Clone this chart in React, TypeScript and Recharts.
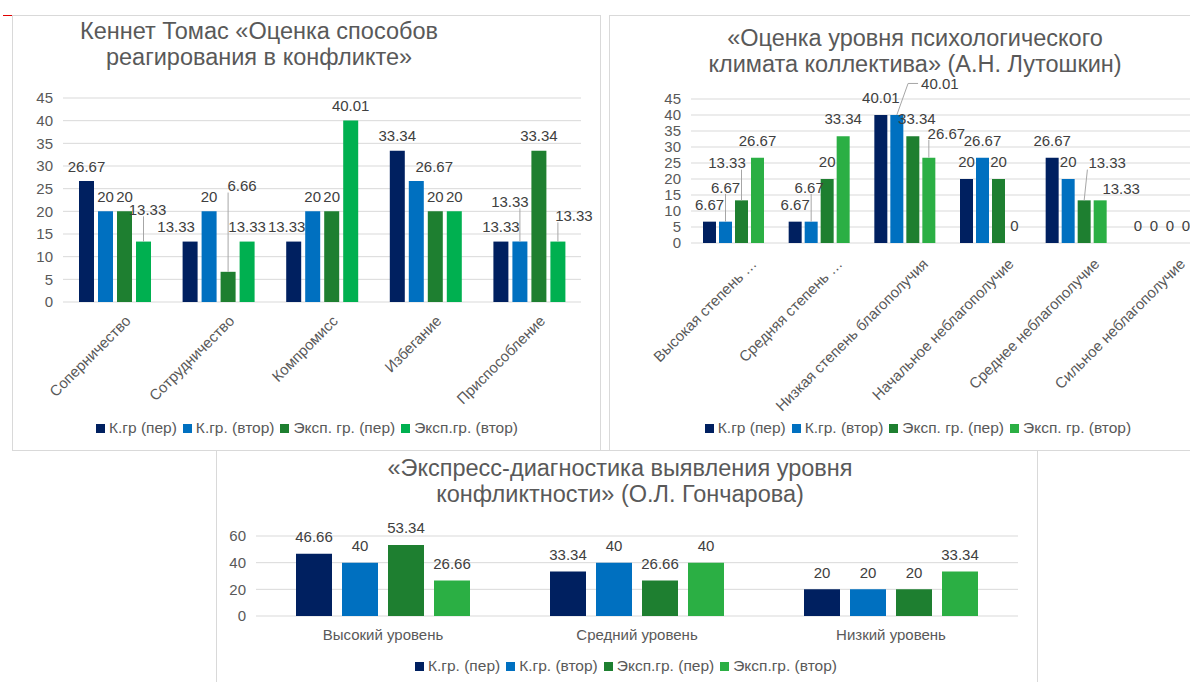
import React from 'react';
import { BarChart, Bar, XAxis, YAxis, CartesianGrid, LabelList } from 'recharts';

const FONT = '"Liberation Sans", Arial, sans-serif';
const AXIS_GREY = '#595959';
const LABEL_GREY = '#404040';
const GRID = '#D9D9D9';

const NAVY = '#002060';
const BLUE = '#0070C0';
const DARK_GREEN = '#1E7F30';
const GREEN = '#00B050';
const GREEN_2 = '#2BAF44';

// Кеннет Томас «Оценка способов реагирования в конфликте»
const thomasCategories = ['Соперничество', 'Сотрудничество', 'Компромисс', 'Избегание', 'Приспособление'];
const thomasCtrlFirst = [26.67, 13.33, 13.33, 33.34, 13.33];
const thomasCtrlSecond = [20, 20, 20, 26.67, 13.33];
const thomasExpFirst = [20, 6.66, 20, 20, 33.34];
const thomasExpSecond = [13.33, 13.33, 40.01, 20, 13.33];
const thomasNames = ['К.гр (пер)', 'К.гр. (втор)', 'Эксп. гр. (пер)', 'Эксп.гр. (втор)'];
const thomasTicks = [0, 5, 10, 15, 20, 25, 30, 35, 40, 45];

// «Оценка уровня психологического климата коллектива» (А.Н. Лутошкин)
const climateCategories = [
  'Высокая степень …',
  'Средняя степень …',
  'Низкая степень благополучия',
  'Начальное неблагополучие',
  'Среднее неблагополучие',
  'Сильное неблагополучие',
];
const climateCtrlFirst = [6.67, 6.67, 40.01, 20, 26.67, 0];
const climateCtrlSecond = [6.67, 6.67, 40.01, 26.67, 20, 0];
const climateExpFirst = [13.33, 20, 33.34, 20, 13.33, 0];
const climateExpSecond = [26.67, 33.34, 26.67, 0, 13.33, 0];
const climateNames = ['К.гр (пер)', 'К.гр. (втор)', 'Эксп. гр. (пер)', 'Эксп. гр. (втор)'];
const climateTicks = [0, 5, 10, 15, 20, 25, 30, 35, 40, 45];

// «Экспресс-диагностика выявления уровня конфликтности» (О.Л. Гончарова)
const conflictCategories = ['Высокий уровень', 'Средний уровень', 'Низкий уровень'];
const conflictCtrlFirst = [46.66, 33.34, 20];
const conflictCtrlSecond = [40, 40, 20];
const conflictExpFirst = [53.34, 26.66, 20];
const conflictExpSecond = [26.66, 40, 33.34];
const conflictNames = ['К.гр. (пер)', 'К.гр. (втор)', 'Эксп.гр. (пер)', 'Эксп.гр. (втор)'];
const conflictTicks = [0, 20, 40, 60];

// label nudges (dx, dy, leader line) where Excel moved labels apart
type Shift = [number, number, boolean?];
type ShiftMap = Record<number, Record<number, Shift>>;

const thomasShifts: ShiftMap = {
  0: { 1: [-14, 0], 2: [-7, 0] },
  1: { 3: [18, 0], 4: [-10, -25, true] },
  2: { 1: [14, -71, true] },
  3: { 0: [4, -17, true], 4: [16, -11, true] },
};

const climateShifts: ShiftMap = {
  0: {},
  1: { 0: [0, -17, true], 1: [-2, -17, true], 2: [43, -14, true] },
  2: { 0: [-14.5, -20, true], 2: [4, 0], 4: [23, -20, true] },
  3: { 2: [17.5, -7, true], 4: [21, 6] },
};

const toRows = (cats: string[], series: number[][]) =>
  cats.map((name, i) => {
    const row: Record<string, string | number> = { name };
    series.forEach((s, k) => {
      row['s' + k] = s[i];
    });
    return row;
  });

const textWidth = (s: string, fs: number) => {
  let w = 0;
  for (const ch of s) w += ch === '.' ? 0.278 : 0.556;
  return w * fs;
};

const makeLabel = (shifts: Record<number, Shift> | undefined, gap: number, fs: number) => (props: any) => {
  const { x, y, width, value, index } = props;
  const cx = Number(x) + Number(width) / 2;
  const top = Number(y);
  const s = shifts ? shifts[index] : undefined;
  const lx = cx + (s ? s[0] : 0);
  const ly = top - gap + (s ? s[1] : 0);
  const text = String(value);
  let leader = null;
  if (s && s[2]) {
    const hw = textWidth(text, fs) / 2 + 1;
    const hh = fs * 0.45;
    if (Math.abs(lx - cx) > 30) {
      // elbow leader to the near side of the label
      const side = lx > cx ? lx - hw - 2 : lx + hw + 2;
      const knee = lx > cx ? side - 10 : side + 10;
      leader = <polyline points={`${cx},${top} ${knee},${ly} ${side},${ly}`} fill="none" stroke="#A6A6A6" strokeWidth={1} />;
    } else {
      const px = Math.min(Math.max(cx, lx - hw), lx + hw);
      const py = Math.min(Math.max(top, ly - hh), ly + hh);
      leader = <line x1={cx} y1={top} x2={px} y2={py} stroke="#A6A6A6" strokeWidth={1} />;
    }
  }
  return (
    <g>
      {leader}
      <text x={lx} y={ly} textAnchor="middle" dominantBaseline="central" fontSize={fs} fill={LABEL_GREY} fontFamily={FONT}>
        {text}
      </text>
    </g>
  );
};

const rotatedTick = (ox: number, oy: number, fs: number) => (props: any) => {
  const { x, y, payload } = props;
  const tx = x + ox;
  const ty = y + oy;
  return (
    <text x={tx} y={ty} transform={`rotate(-45 ${tx} ${ty})`} textAnchor="end" dominantBaseline="central" fontSize={fs} fill={AXIS_GREY} fontFamily={FONT}>
      {payload.value}
    </text>
  );
};

const flatTick = (oy: number, fs: number) => (props: any) => {
  const { x, y, payload } = props;
  return (
    <text x={x} y={y + oy} textAnchor="middle" dominantBaseline="central" fontSize={fs} fill={AXIS_GREY} fontFamily={FONT}>
      {payload.value}
    </text>
  );
};

interface GroupedProps {
  width: number;
  height: number;
  margin: { top: number; right: number; bottom: number; left: number };
  yWidth: number;
  xHeight: number;
  rows: Record<string, string | number>[];
  colors: string[];
  names: string[];
  domain: [number, number];
  ticks: number[];
  barSize: number;
  barGap: number;
  tick: (p: any) => React.ReactElement;
  shifts?: ShiftMap;
  gap: number;
}

const GroupedBars: React.FC<GroupedProps> = (p) => (
  <BarChart width={p.width} height={p.height} data={p.rows} margin={p.margin} barGap={p.barGap} style={{ fontFamily: FONT }}>
    <CartesianGrid vertical={false} stroke={GRID} />
    <XAxis dataKey="name" axisLine={false} tickLine={false} tickSize={0} tickMargin={0} interval={0} height={p.xHeight} tick={p.tick} />
    <YAxis
      domain={p.domain}
      ticks={p.ticks}
      interval={0}
      width={p.yWidth}
      axisLine={false}
      tickLine={false}
      tickSize={0}
      tickMargin={10}
      tick={{ fontSize: 15, fill: AXIS_GREY, fontFamily: FONT }}
    />
    {p.colors.map((c, k) => (
      <Bar key={k} dataKey={'s' + k} name={p.names[k]} fill={c} barSize={p.barSize} minPointSize={0.01} isAnimationActive={false}>
        <LabelList dataKey={'s' + k} content={makeLabel(p.shifts ? p.shifts[k] : undefined, p.gap, 15)} />
      </Bar>
    ))}
  </BarChart>
);

const Legend: React.FC<{ names: string[]; colors: string[]; cx: number; cy: number }> = ({ names, colors, cx, cy }) => (
  <div
    style={{
      position: 'absolute',
      left: cx - 300,
      top: cy - 9,
      width: 600,
      height: 18,
      display: 'flex',
      justifyContent: 'center',
      alignItems: 'center',
      fontSize: 15.5,
      color: AXIS_GREY,
      whiteSpace: 'nowrap',
    }}
  >
    {names.map((n, i) => (
      <div key={n} style={{ display: 'flex', alignItems: 'center', marginRight: i < names.length - 1 ? 6 : 0 }}>
        <span style={{ width: 9, height: 9, background: colors[i], marginRight: 4, display: 'inline-block' }} />
        <span>{n}</span>
      </div>
    ))}
  </div>
);

const Title: React.FC<{ lines: string[]; cx: number; top: number }> = ({ lines, cx, top }) => (
  <div
    style={{
      position: 'absolute',
      left: cx - 300,
      top,
      width: 600,
      textAlign: 'center',
      fontSize: 23.5,
      lineHeight: '26px',
      color: AXIS_GREY,
    }}
  >
    {lines.map((l) => (
      <div key={l}>{l}</div>
    ))}
  </div>
);

const panel = (left: number, top: number, width: number, height: number): React.CSSProperties => ({
  position: 'absolute',
  left,
  top,
  width,
  height,
  border: '1px solid #D9D9D9',
  boxSizing: 'border-box',
  background: '#fff',
});

export default function App() {
  const thomasColors = [NAVY, BLUE, DARK_GREEN, GREEN];
  const otherColors = [NAVY, BLUE, DARK_GREEN, GREEN_2];

  const thomasRows = toRows(thomasCategories, [thomasCtrlFirst, thomasCtrlSecond, thomasExpFirst, thomasExpSecond]);
  const climateRows = toRows(climateCategories, [climateCtrlFirst, climateCtrlSecond, climateExpFirst, climateExpSecond]);
  const conflictRows = toRows(conflictCategories, [conflictCtrlFirst, conflictCtrlSecond, conflictExpFirst, conflictExpSecond]);

  return (
    <div
      style={{
        position: 'fixed',
        left: 0,
        top: 0,
        width: 1190,
        height: 682,
        overflow: 'hidden',
        background: '#fff',
        fontFamily: FONT,
      }}
    >
      <div style={{ position: 'absolute', left: 3, top: 15, width: 10, height: 1, background: '#E00000' }} />

      {/* chart 1 */}
      <div style={panel(12, 15, 589, 436)} />
      <div style={{ position: 'absolute', left: 13, top: 15 }}>
        <GroupedBars
          width={587}
          height={435}
          margin={{ top: 83, right: 19, bottom: 0, left: 10 }}
          yWidth={40}
          xHeight={148}
          rows={thomasRows}
          colors={thomasColors}
          names={thomasNames}
          domain={[0, 45]}
          ticks={thomasTicks}
          barSize={15}
          barGap={4}
          tick={rotatedTick(13, 16, 15)}
          shifts={thomasShifts}
          gap={15}
        />
      </div>
      <Title lines={['Кеннет Томас «Оценка способов', 'реагирования в конфликте»']} cx={259} top={18} />
      <Legend names={thomasNames} colors={thomasColors} cx={307} cy={428} />

      {/* chart 2 */}
      <div style={panel(609, 15, 620, 436)} />
      <div style={{ position: 'absolute', left: 609, top: 15 }}>
        <GroupedBars
          width={600}
          height={435}
          margin={{ top: 84, right: 4, bottom: 0, left: 40 }}
          yWidth={42}
          xHeight={207}
          rows={climateRows}
          colors={otherColors}
          names={climateNames}
          domain={[0, 45]}
          ticks={climateTicks}
          barSize={13}
          barGap={3}
          tick={rotatedTick(20, 18, 15)}
          shifts={climateShifts}
          gap={17.5}
        />
      </div>
      <Title lines={['«Оценка уровня психологического', 'климата коллектива» (А.Н. Лутошкин)']} cx={915} top={25} />
      <Legend names={climateNames} colors={otherColors} cx={918} cy={428} />

      {/* chart 3 */}
      <div style={panel(216, 450, 822, 250)} />
      <div style={{ position: 'absolute', left: 216, top: 450 }}>
        <GroupedBars
          width={821}
          height={232}
          margin={{ top: 86, right: 19, bottom: 0, left: 0 }}
          yWidth={40}
          xHeight={66}
          rows={conflictRows}
          colors={otherColors}
          names={conflictNames}
          domain={[0, 60]}
          ticks={conflictTicks}
          barSize={36}
          barGap={10}
          tick={flatTick(18, 15)}
          gap={17}
        />
      </div>
      <Title lines={['«Экспресс-диагностика выявления уровня', 'конфликтности» (О.Л. Гончарова)']} cx={620} top={455} />
      <Legend names={conflictNames} colors={otherColors} cx={626} cy={666} />
    </div>
  );
}
